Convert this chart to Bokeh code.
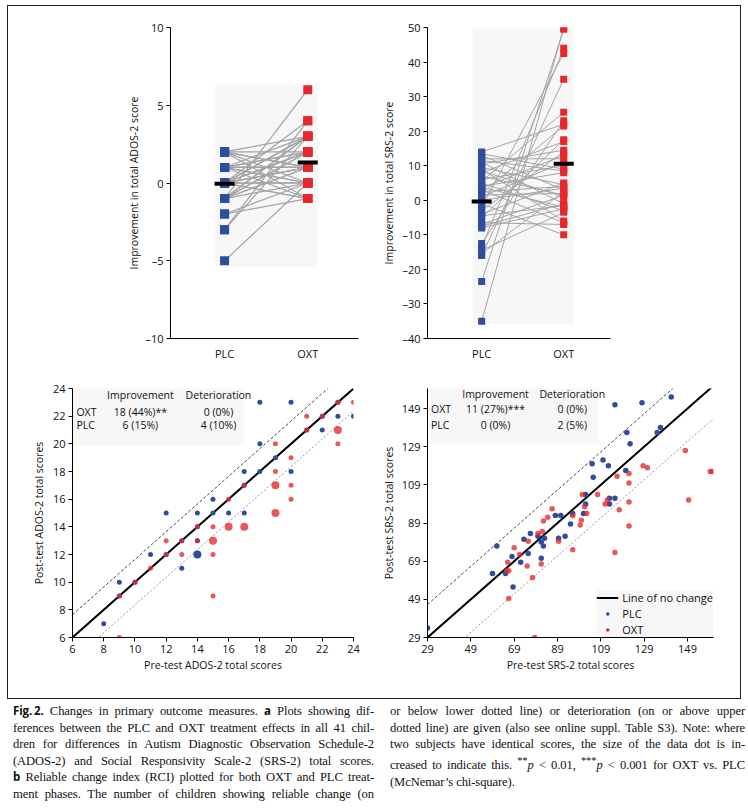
import numpy as np
import pandas as pd
from bokeh.plotting import figure
from bokeh.models import (Range1d, FixedTicker, Label, Legend, LegendItem,
                          BoxAnnotation, ColumnDataSource, Div)
from bokeh.layouts import column, row
from bokeh.embed import file_html
from bokeh.resources import INLINE
from bokeh.core.properties import value

# ---------------- data ----------------
conditions = ["PLC", "OXT"]

# panel a, ADOS-2 improvement per child (PLC phase, OXT phase)
ados_plc_change = [-5, -3, -3, -2, -2, -1, -1, -1, -1, -1, -1, -1, -1,
                   0, 0, 0, 0, 0, 0, 0, 0, 0, 0, 0, 0, 0,
                   1, 1, 1, 1, 1, 1, 1, 1, 1, 2, 2, 2, 2, 2, 2]
ados_oxt_change = [0, 4, 3, -1, 0, 6, 3, 2, 1, 1, 0, 3, 2,
                   4, 3, 3, 2, 2, 1, 1, 1, 0, 0, -1, -1, 0,
                   3, 2, 1, 1, 0, 0, -1, 2, 1, 3, 2, 1, 0, -1, 1]

# panel a, SRS-2 improvement per child
srs_plc_change = [14, 13.5, 13, 12, 11, 10.5, 9.5, 9, 8, 7, 6, 5.5, 5, 4, 3.5, 3,
                  2.5, 2, 1.5, 1, 0, 11.5, -1, 8.5, -2, 3.8, -3, -4, -4.5, -5,
                  -6.5, -7, -7.5, -8, -12.5, -13.5, -14.5, -15.5, -16, -23.5, -35]
srs_oxt_change = [22, 9, 3, 12, -1, 14.5, 4.5, -6, 17, 1.5, 10, 25.5, -3, 8, 13, -6.5,
                  4, 21.5, 2, 11, 3.5, 8.5, -10, 1, 42.5, -2, 14, 5, -1.5, 17.5,
                  -7, 1.5, -1, -2.5, 23, 44, -3.5, 2.5, 35, 49.5, 50]

# panel b, ADOS-2 pre/post scores
ados_plc_pre = [8, 9, 11, 12, 13, 14, 14, 14, 15, 15, 16, 17, 17, 18, 18, 18, 19, 20, 20, 22,
                23, 24, 9, 10, 12, 13, 14, 14, 17, 21, 22, 23]
ados_plc_post = [7, 10, 12, 15, 11, 15, 12, 12, 16, 15, 15, 15, 18, 23, 20, 18, 19, 23, 18, 21,
                 22, 22, 9, 10, 12, 13, 14, 13, 17, 21, 22, 23]
ados_oxt_pre = [9, 9, 10, 11, 12, 12, 13, 13, 14, 14, 15, 15, 15, 15, 15, 16, 16, 16, 17, 17,
                17, 19, 19, 19, 19, 19, 19, 20, 20, 20, 21, 21, 22, 23, 23, 23, 23, 24]
ados_oxt_post = [6, 9, 10, 11, 13, 12, 13, 12, 14, 13, 14, 13, 13, 12, 9, 16, 14, 14, 17, 14,
                 14, 20, 18, 17, 17, 15, 15, 19, 17, 16, 22, 21, 22, 23, 21, 21, 20, 23]

# panel b, SRS-2 pre/post scores
srs_plc_pre = [29, 59, 61, 65, 68, 68.5, 72, 73.5, 75.5, 76.5, 80, 81.5, 81.5, 82.5, 83, 88,
               89.5, 90.5, 92.5, 95, 96, 101, 102, 102, 105, 105.5, 110, 112.5, 113, 113,
               115.5, 115.5, 120.5, 121, 122.5, 128, 135, 136.5, 141.5]
srs_plc_post = [34, 62.5, 77, 62.5, 71.5, 55.5, 68.5, 80.5, 73, 83.5, 82, 79, 70.5, 77, 81, 93,
                81, 93, 82, 88.5, 94, 94, 104, 99, 120, 113, 122, 119, 99, 102,
                102, 151, 116.5, 136.5, 130.5, 152, 136.5, 139, 155]
srs_oxt_pre = [78.5, 66.5, 66, 65.5, 66.5, 69, 71.5, 75.5, 75, 77.5, 80, 81.5, 82, 82.5, 84.5,
               86.5, 89.5, 96, 96, 99.5, 100, 100.5, 101.5, 102.5, 107.5, 111, 112, 115.5,
               116.5, 117.5, 122, 122, 122, 122, 128.5, 130.5, 148, 149.5, 159.5, 160.5]
srs_oxt_post = [29, 49.5, 68.5, 64, 64, 76, 72.5, 79.5, 66.5, 60.5, 83.5, 67.5, 84.5, 90, 92,
                96.5, 79.5, 93, 75, 88, 90.5, 104, 97.5, 94, 104, 99, 101, 73.5,
                113.5, 96, 115, 110, 100, 87.5, 119, 118, 127, 101, 116, 116]

# reliable-change thresholds (distance of dotted lines from line of no change)
ados_rci = 1.65
srs_rci = 17.3

# axis ticks / limits
ados_change_ticks = [-10, -5, 0, 5, 10]
srs_change_ticks = [-40, -30, -20, -10, 0, 10, 20, 30, 40, 50]
ados_ticks = [6, 8, 10, 12, 14, 16, 18, 20, 22, 24]
srs_ticks = [29, 49, 69, 89, 109, 129, 149]
ados_lim = (6, 24)
srs_xlim = (29, 161)
srs_ylim = (29, 159.5)

# RCI tables
table_header = ["Improvement", "Deterioration"]
table_rows = ["OXT", "PLC"]
ados_improve = ["18 (44%)**", "6 (15%)"]
ados_deter = ["0 (0%)", "4 (10%)"]
srs_improve = ["11 (27%)***", "0 (0%)"]
srs_deter = ["0 (0%)", "2 (5%)"]

# ---------------- style ----------------
BLUE = "#2f4d9e"
RED = "#e4282c"
GRAY_LINE = "#a3a3a3"
PANEL = "#f7f7f7"
FONT = "Open Sans"


def dash_labels(ticks):
    return {t: ("\u2013" + str(abs(t))) for t in ticks if t < 0}


def base_fig(**kw):
    p = figure(output_backend="svg", toolbar_location=None, title=None, **kw)
    p.xgrid.visible = False
    p.ygrid.visible = False
    p.outline_line_color = None
    p.background_fill_color = "white"
    p.border_fill_color = "white"
    for ax in p.axis:
        ax.axis_line_color = "black"
        ax.major_tick_line_color = "black"
        ax.minor_tick_line_color = None
        ax.major_tick_in = 0
        ax.major_tick_out = 4
        ax.major_label_text_font = FONT
        ax.major_label_text_font_size = "11px"
        ax.major_label_text_color = "#111111"
        ax.axis_label_text_font = FONT
        ax.axis_label_text_font_style = "normal"
        ax.axis_label_text_color = "#111111"
        ax.major_label_standoff = 3
    return p


def paired_panel(plc, oxt, yr, ticks, ylabel, sq, pad, lw, **kw):
    p = base_fig(x_range=Range1d(*kw.pop("xr")), y_range=Range1d(*yr), **kw)
    xi = list(range(len(conditions)))
    allv = list(plc) + list(oxt)
    p.quad(left=[xi[0] - 0.11], right=[xi[1] + 0.12], bottom=[min(allv) - pad],
           top=[max(allv) + pad], fill_color=PANEL, line_color=None)
    p.multi_line(xs=[[xi[0], xi[1]] for _ in plc], ys=[[a, b] for a, b in zip(plc, oxt)],
                 line_color=GRAY_LINE, line_width=lw)
    p.scatter(x=[xi[0]] * len(plc), y=plc, marker="square", size=sq,
              fill_color=BLUE, line_color=None)
    p.scatter(x=[xi[1]] * len(oxt), y=oxt, marker="square", size=sq,
              fill_color=RED, line_color=None)
    p.scatter(x=xi, y=[float(np.mean(plc)), float(np.mean(oxt))], marker="dash",
              size=20, line_width=4, line_color="black")
    p.xaxis.ticker = FixedTicker(ticks=xi)
    p.xaxis.major_label_overrides = {i: c for i, c in zip(xi, conditions)}
    p.xaxis.major_tick_out = 0
    p.xaxis.major_label_standoff = 7
    p.yaxis.ticker = FixedTicker(ticks=ticks)
    p.yaxis.major_label_overrides = dash_labels(ticks)
    p.yaxis.axis_label = ylabel
    p.yaxis.axis_label_text_font_size = "10.5px"
    return p


# ---------------- panel a ----------------
p1 = paired_panel(ados_plc_change, ados_oxt_change, (-10, 10), ados_change_ticks,
                  "Improvement in total ADOS-2 score", 9, 0.4, 1.2,
                  xr=(-0.65, 1.61), width=360, height=364,
                  min_border_left=162, min_border_right=10,
                  min_border_top=21, min_border_bottom=31)
p1.yaxis.axis_label_standoff = 1
p1.add_layout(Label(x=-1.12, y=-10.64, text="a", text_font=FONT, text_font_style="bold",
                    text_font_size="12px", text_align="center", text_baseline="middle"))

p2 = paired_panel(srs_plc_change, srs_oxt_change, (-40, 50), srs_change_ticks,
                  "Improvement in total SRS-2 score", 7, 0.8, 1.0,
                  xr=(-0.66, 1.57), width=372, height=364,
                  min_border_left=59, min_border_right=130,
                  min_border_top=21, min_border_bottom=32)
p2.yaxis.axis_label_standoff = 3


# ---------------- panel b ----------------
def dot_source(pre, post, base, step):
    df = pd.DataFrame({"pre": pre, "post": post})
    g = df.groupby(["pre", "post"]).size().reset_index(name="n")
    g["size"] = base + (g["n"] - 1) * step
    return ColumnDataSource(g)


def rci_panel(plc_pre, plc_post, oxt_pre, oxt_post, xlim, ylim, ticks, rci, label,
              dot, **kw):
    p = base_fig(x_range=Range1d(*xlim), y_range=Range1d(*ylim), **kw)
    lo, hi = min(xlim[0], ylim[0]), max(xlim[1], ylim[1])
    line_r = p.line(x=[lo, hi], y=[lo, hi], line_color="black", line_width=2)
    p.line(x=[lo, hi], y=[lo + rci, hi + rci], line_color="#333333", line_width=0.9,
           line_dash="3 2")
    p.line(x=[lo, hi], y=[lo - rci, hi - rci], line_color="#8c84b0", line_width=0.9,
           line_dash="2 2")
    p.scatter("pre", "post", source=dot_source(plc_pre, plc_post, dot, 3), size="size",
              fill_color=BLUE, line_color=None)
    p.scatter("pre", "post", source=dot_source(oxt_pre, oxt_post, dot, 3), size="size",
              fill_color=RED, fill_alpha=0.78, line_color=None)
    # small swatches used only for the legend
    b = p.scatter(x=[np.nan], y=[np.nan], size=4.5, fill_color=BLUE, line_color=None)
    r = p.scatter(x=[np.nan], y=[np.nan], size=4.5, fill_color=RED, line_color=None)
    p.xaxis.ticker = FixedTicker(ticks=ticks)
    p.yaxis.ticker = FixedTicker(ticks=ticks)
    p.xaxis.axis_label = "Pre-test " + label + " total scores"
    p.yaxis.axis_label = "Post-test " + label + " total scores"
    p.xaxis.axis_label_text_font_size = "10.5px"
    p.yaxis.axis_label_text_font_size = "10.5px"
    p.xaxis.axis_label_standoff = 2
    p.yaxis.axis_label_standoff = 4
    return p, line_r, b, r


def add_table(p, box, xs, ys, improve, deter):
    p.add_layout(BoxAnnotation(left=box[0], right=box[1], bottom=box[2], top=box[3],
                               fill_color=PANEL, fill_alpha=1, line_color=None,
                               level="underlay"))
    src = ColumnDataSource(dict(
        x=[xs[1], xs[2]] + [xs[0]] * len(table_rows) + [xs[1]] * len(improve) + [xs[2]] * len(deter),
        y=[ys[0], ys[0]] + ys[1:] + ys[1:] + ys[1:],
        t=table_header + table_rows + improve + deter,
        a=["center", "center"] + ["left"] * len(table_rows) + ["center"] * (len(improve) + len(deter)),
    ))
    p.text(x="x", y="y", text="t", text_align="a", text_baseline="middle", source=src,
           text_font=value(FONT), text_font_size="10.5px", text_color="#111111")


p3, _, _, _ = rci_panel(ados_plc_pre, ados_plc_post, ados_oxt_pre, ados_oxt_post,
                        ados_lim, ados_lim, ados_ticks, ados_rci, "ADOS-2", 5,
                        width=370, height=328, min_border_left=64, min_border_right=25,
                        min_border_top=18, min_border_bottom=61)
add_table(p3, (6.05, 16.96, 19.88, 24.5), (6.25, 10.35, 15.35), [23.55, 22.28, 21.33],
          ados_improve, ados_deter)
p3.add_layout(Label(x=3.82, y=4.12, text="b", text_font=FONT, text_font_style="bold",
                    text_font_size="12px", text_align="center", text_baseline="middle"))

p4, lr, br, rr = rci_panel(srs_plc_pre, srs_plc_post, srs_oxt_pre, srs_oxt_post,
                           srs_xlim, srs_ylim, srs_ticks, srs_rci, "SRS-2", 5.5,
                           width=362, height=328, min_border_left=45, min_border_right=27,
                           min_border_top=11, min_border_bottom=60)
p4.yaxis.axis_label_standoff = 3
add_table(p4, (29.9, 108.1, 130.7, 165), (30.6, 60.4, 95.8), [156.6, 149.0, 140.3],
          srs_improve, srs_deter)

legend = Legend(items=[LegendItem(label="Line of no change", renderers=[lr]),
                       LegendItem(label="PLC", renderers=[br]),
                       LegendItem(label="OXT", renderers=[rr])],
                location="bottom_right", margin=0, padding=8, spacing=1,
                glyph_width=22, glyph_height=9, label_height=14, label_standoff=4,
                label_text_font=FONT, label_text_font_size="11px",
                label_text_color="#111111",
                background_fill_color=PANEL, background_fill_alpha=1,
                border_line_color=None)
p4.add_layout(legend)

# ---------------- caption ----------------
J = "text-align:justify;text-align-last:justify;white-space:nowrap;"
L = "text-align:left;white-space:nowrap;"
B = "<b style=\"font-family:'Open Sans',sans-serif;font-size:11.5px;\">"
left_lines = [
    B + "Fig.\u20092.</b> Changes in primary outcome measures. " + B + "a</b> Plots showing dif-",
    "ferences between the PLC and OXT treatment effects in all 41 chil-",
    "dren for differences in Autism Diagnostic Observation Schedule-2",
    "(ADOS-2) and Social Responsivity Scale-2 (SRS-2) total scores.",
    B + "b</b> Reliable change index (RCI) plotted for both OXT and PLC treat-",
    "ment phases. The number of children showing reliable change (on",
]
right_lines = [
    "or below lower dotted line) or deterioration (on or above upper",
    "dotted line) are given (also see online suppl. Table S3). Note: where",
    "two subjects have identical scores, the size of the data dot is in-",
    "creased to indicate this. <sup>**</sup><i>p</i> &lt; 0.01, <sup>***</sup><i>p</i> &lt; 0.001 for OXT vs. PLC",
]
last_line = "(McNemar\u2019s chi-square)."
left_html = "".join(f'<div style="{J}">{t}</div>' for t in left_lines)
right_html = "".join(f'<div style="{J}">{t}</div>' for t in right_lines) + \
    f'<div style="{L}">{last_line}</div>'
caption_html = (
    "<div style=\"display:flex;justify-content:space-between;width:732px;"
    "font-family:'Liberation Serif',serif;font-size:12.6px;line-height:16.6px;"
    "letter-spacing:-0.1px;color:#111;padding-top:0px;\">"
    f"<div style=\"width:361px;\">{left_html}</div>"
    f"<div style=\"width:355px;\">{right_html}</div>"
    "</div>"
)
caption = Div(text=caption_html, width=732, height=100)

plots = column(row(p1, p2), row(p3, p4),
               styles={"outline": "1px solid #222", "outline-offset": "0px",
                       "position": "relative", "z-index": "1"})
layout = column(plots, caption, margin=(6, 8, 0, 8))

open("out.html", "w").write(file_html(layout, INLINE))
